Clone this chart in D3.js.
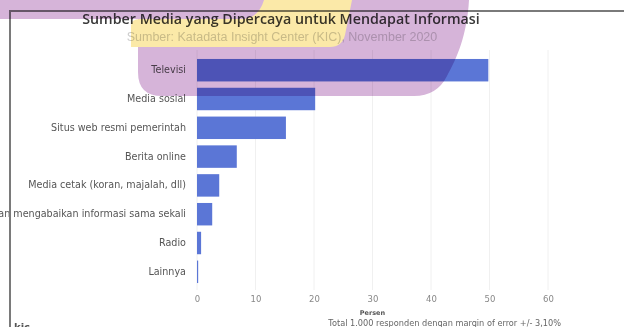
<!DOCTYPE html>
<html><head><meta charset="utf-8">
<script src="https://cdn.jsdelivr.net/npm/d3@7"></script>
<style>
html,body{margin:0;padding:0;background:#fff;overflow:hidden}
svg{display:block}
</style></head>
<body>
<script>
const categories = ["Televisi","Media sosial","Situs web resmi pemerintah","Berita online","Media cetak (koran, majalah, dll)","Tidak peduli dan mengabaikan informasi sama sekali","Radio","Lainnya"];
const values = [49.8, 20.2, 15.2, 6.8, 3.8, 2.6, 0.7, 0.2];
const xTicks = [0,10,20,30,40,50,60];
const titleText = "Sumber Media yang Dipercaya untuk Mendapat Informasi";
const subtitleText = "Sumber: Katadata Insight Center (KIC), November 2020";
const xLabel = "Persen";
const noteText = "Total 1.000 responden dengan margin of error +/- 3,10%";

const W = 624, H = 327;
const svg = d3.select("body").append("svg").attr("width", W).attr("height", H);
const font = "'DejaVu Sans', sans-serif";

function fit(sel, base, target){
  const l = sel.node().getComputedTextLength();
  sel.attr("font-size", base*target/l);
  return base*target/l;
}

const x = d3.scaleLinear().domain([0,60]).range([197,548]);
const y = d3.scaleBand().domain(categories).range([55.8,286.2]).paddingInner(0.22).paddingOuter(0.11);

const chart = svg.append("g");

// gridlines
chart.append("g").selectAll("line").data(xTicks).join("line")
  .attr("x1", d=>x(d)).attr("x2", d=>x(d)).attr("y1", 50).attr("y2", 290)
  .attr("stroke", "#f0f0f0").attr("stroke-width", 1);

// bars
chart.append("g").selectAll("rect").data(values).join("rect")
  .attr("x", x(0)).attr("y", (d,i)=>y(categories[i]))
  .attr("width", d=>x(d)-x(0)).attr("height", y.bandwidth())
  .attr("fill", "#5b76d6");

// y axis
const yAxis = chart.append("g").attr("transform", `translate(${x(0)-4},0)`)
  .call(d3.axisLeft(y).tickSize(0).tickPadding(7));
yAxis.select(".domain").remove();
const ylab = yAxis.selectAll("text").attr("font-family", font).attr("font-size", 9).attr("fill", "#555");
const refLab = ylab.filter(d=>d===categories[4]);
const fs = fit(refLab, 9, 158);
ylab.attr("font-size", fs);

// x axis
const xAxis = chart.append("g").attr("transform", `translate(0,292)`)
  .call(d3.axisBottom(x).tickValues(xTicks).tickSize(0).tickPadding(4));
xAxis.select(".domain").remove();
xAxis.selectAll("text").attr("font-family", font).attr("font-size", 8.5).attr("fill", "#888");

chart.append("text").attr("x", (x(0)+x(60))/2).attr("y", 315).attr("text-anchor","middle")
  .attr("font-family", font).attr("font-size", 6.5).attr("font-weight","bold").attr("fill","#555").text(xLabel);
const note = chart.append("text").attr("x", 561).attr("y", 325.5).attr("text-anchor","end")
  .attr("font-family", font).attr("font-size", 7).attr("fill","#666").text(noteText);
fit(note, 7, 233);

// titles
const t = chart.append("text").attr("x", 281).attr("y", 24).attr("text-anchor","middle")
  .attr("font-family", "'Open Sans', sans-serif").attr("font-size", 12.5).attr("font-weight", 600)
  .attr("fill", "#3a3a3a").text(titleText);
fit(t, 12.5, 398);
const s = chart.append("text").attr("x", 282).attr("y", 41).attr("text-anchor","middle")
  .attr("font-family", "'Liberation Sans', sans-serif").attr("font-size", 10).attr("fill", "#cdcdcd").text(subtitleText);
fit(s, 10, 311);

// bottom-left logo text (cut off in the reference)
chart.append("text").attr("x", 14).attr("y", 331).attr("font-family", font).attr("font-size", 10)
  .attr("font-weight","bold").attr("fill","#555").text("kic");

// frame
chart.append("path").attr("d", "M10,327 L10,11 L624,11").attr("fill","none")
  .attr("stroke","#7a7a7a").attr("stroke-width",2);

// decorative overlay
const deco = svg.append("g").style("mix-blend-mode","multiply");
deco.append("path").attr("fill","#d6b4d9")
  .attr("d","M0,0 L469,0 C467,35 457,58 447,76 Q437,96 414,96 L162,96 Q138,96 138,72 L138,19 L0,19 Z");
deco.append("path").attr("fill","#fbe9a8")
  .attr("d","M264,0 L352,0 L345,35 Q342,47 330,47 L131,47 L131,26 Q131,19 140,19 L244,19 Q259,17 264,0 Z");
</script>
</body></html>
